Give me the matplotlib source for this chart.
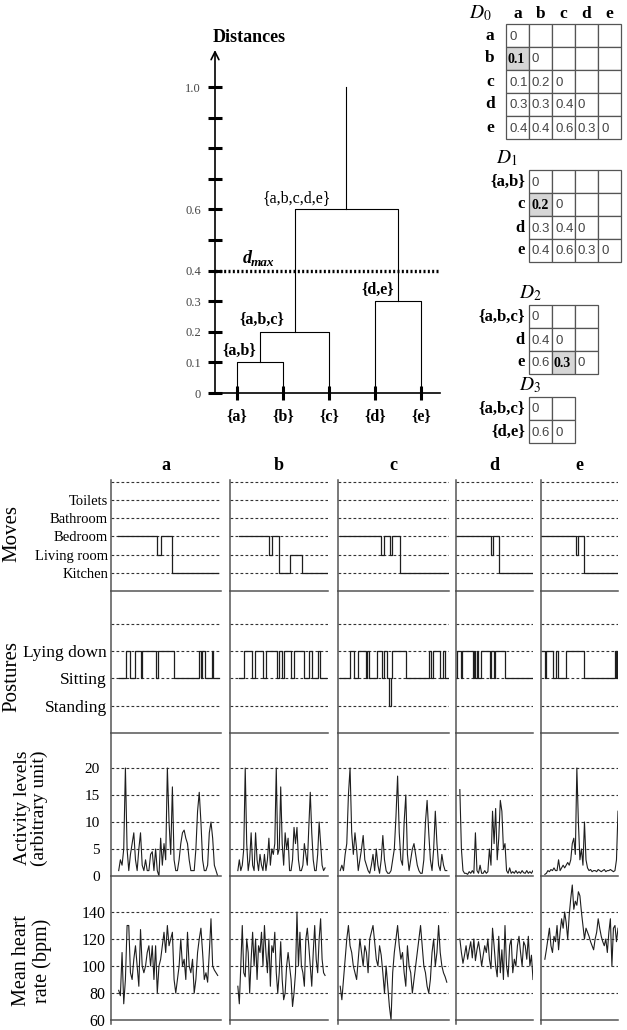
import matplotlib
matplotlib.use('Agg')
import matplotlib.pyplot as plt
from matplotlib.patches import Rectangle
import numpy as np

plt.rcParams['font.family'] = ['Liberation Serif', 'DejaVu Serif']
plt.rcParams['mathtext.fontset'] = 'stix'

# ---------------- data ----------------
leaves = ['a', 'b', 'c', 'd', 'e']
merge_left = ['a', '{a,b}', 'd', '{a,b,c}']
merge_right = ['b', 'c', 'e', '{d,e}']
merge_height = [0.1, 0.2, 0.3, 0.6]
merge_name = ['{a,b}', '{a,b,c}', '{d,e}', '{a,b,c,d,e}']
root_top = 1.0
d_max = 0.4
dist_ticks = [0, 0.1, 0.2, 0.3, 0.4, 0.5, 0.6, 0.7, 0.8, 0.9, 1.0]
dist_labels = ['0', '0.1', '0.2', '0.3', '0.4', '', '0.6', '', '', '', '1.0']

# distance matrices (lower triangle)
D0_rows = ['a', 'b', 'c', 'd', 'e']
D0_vals = [[0], [0.1, 0], [0.1, 0.2, 0], [0.3, 0.3, 0.4, 0], [0.4, 0.4, 0.6, 0.3, 0]]
D1_rows = ['{a,b}', 'c', 'd', 'e']
D1_vals = [[0], [0.2, 0], [0.3, 0.4, 0], [0.4, 0.6, 0.3, 0]]
D2_rows = ['{a,b,c}', 'd', 'e']
D2_vals = [[0], [0.4, 0], [0.6, 0.3, 0]]
D3_rows = ['{a,b,c}', '{d,e}']
D3_vals = [[0], [0.6, 0]]
D_min = [(1, 0), (1, 0), (2, 1), None]

# moves (time in % of the day window, level)
move_names = ['Kitchen', 'Living room', 'Bedroom', 'Bathroom', 'Toilets']
moves_t = [[6, 42, 45, 55, 97],
           [9, 40, 43, 50, 61, 73, 99],
           [2, 39, 41, 47, 49, 56, 99],
           [0, 45, 48, 56, 100],
           [0, 45, 48, 56, 99]]
moves_lv = [[3, 2, 3, 1, 1],
            [3, 2, 3, 1, 2, 1, 1],
            [3, 2, 3, 2, 3, 1, 1],
            [3, 2, 3, 1, 1],
            [3, 2, 3, 1, 1]]

posture_names = ['Standing', 'Sitting', 'Lying down']
post_t = [[7, 14, 17, 22, 27, 28, 41, 42.5, 57, 80, 82, 83, 85, 92, 93, 98],
          [9, 14, 22, 26, 34, 37, 48, 50, 53, 55, 62, 65, 75, 81, 84, 90, 92, 98],
          [2, 11, 14, 18, 25, 26, 28, 35, 40, 41, 44, 46, 47.5, 49, 61, 82, 84, 86, 92, 95, 96, 100],
          [0, 1, 6, 8, 22, 24, 25, 27, 29, 33, 44, 46, 49, 51, 63, 100],
          [1, 5, 7, 16, 20, 22, 33, 56, 96, 97, 98, 99, 99.5]]
post_lv = [[2, 3, 2, 3, 2, 3, 2, 3, 2, 3, 2, 3, 2, 3, 2, 2],
           [2, 3, 2, 3, 2, 3, 2, 3, 2, 3, 2, 3, 2, 3, 2, 3, 2, 2],
           [2, 3, 2, 3, 2, 3, 2, 3, 2, 3, 2, 1, 2, 3, 2, 3, 2, 3, 2, 3, 2, 2],
           [2, 3, 2, 3, 2, 3, 2, 3, 2, 3, 2, 3, 2, 3, 2, 2],
           [3, 2, 3, 2, 3, 2, 3, 2, 3, 2, 3, 2, 2]]

act_span = [(7, 97), (8, 97), (2, 98), (5, 100), (5, 100)]
act_a = [1, 3, 2, 5, 20, 5, 1, 4, 6, 8, 3, 1, 5, 8, 2, 1, 3, 1, 1, 4, 4.5, 1, 5, 1, 0, 7, 2, 6, 3, 20,
         10, 4, 16.5, 3, 1, 1, 3, 6, 8, 8.5, 7, 6, 3, 1, 1, 1, 5, 12, 15.5, 10, 3, 1, 1, 2, 8, 10, 7, 2, 1, 0]
act_b = [1, 3, 1, 2, 5, 20, 6, 1, 3, 8, 2, 1, 8, 3, 1, 4, 2, 1, 4, 1, 3, 7, 2, 5, 4, 6, 20, 4, 5, 16.5,
         6, 2, 8, 5, 7, 1, 1, 3, 9, 6, 9, 3, 1, 1, 2, 6, 4, 2, 9, 15.5, 8, 3, 1, 1, 4, 10, 6, 2, 1, 1.5]
act_c = [1, 2, 1, 4, 6, 15, 20, 8, 4, 8, 5, 1, 3, 5, 7.5, 3, 2, 1, 0.5, 2, 4, 1, 5, 2, 0.5, 3, 7.5, 3, 1,
         0.5, 0.5, 1, 3, 5, 11, 18.5, 8, 3, 2, 10, 15, 4, 1, 3, 5, 6, 4, 2, 1, 0.5, 0.5, 3, 10, 14, 8, 3,
         1, 5, 12, 6, 2, 1, 4, 2, 1, 1]
act_d = [16, 5, 1, 0.5, 0.5, 0.3, 0.8, 0.5, 1, 0.5, 8, 1, 0.5, 2, 0.5, 0.5, 1, 0.5, 0.8, 5, 2, 12, 6,
         12.5, 3, 7, 14, 12, 5, 6, 1, 0.5, 1.5, 0.5, 0.8, 0.5, 1, 0.5, 0.8, 0.5, 1, 0.6, 0.5, 1, 0.5, 0.8, 0.5, 1]
act_e = [0.3, 0.5, 1, 0.8, 1.2, 1, 1.5, 1, 1, 3, 1, 1.5, 2, 1.5, 2, 2.5, 2, 3, 6, 7, 4, 20, 10, 3, 5, 2,
         10, 3, 1.5, 1, 1.2, 0.8, 1, 1, 0.8, 1.2, 1, 0.8, 1, 1.2, 0.8, 1, 1, 1.2, 1, 0.8, 1, 3, 12]

hr_span = [(7, 97), (8, 97), (2, 98), (5, 100), (5, 100)]
hr_a = [82, 78, 110, 72, 90, 130, 130, 95, 90, 105, 115, 100, 85, 127, 100, 95, 100, 110, 115, 100, 115,
        90, 115, 80, 100, 105, 115, 125, 110, 130, 115, 120, 125, 90, 80, 90, 100, 120, 100, 105, 90, 125,
        100, 95, 105, 80, 90, 110, 120, 128, 110, 90, 95, 88, 110, 135, 100, 97, 95, 93]
hr_b = [85, 72, 100, 130, 95, 92, 120, 110, 80, 105, 125, 100, 120, 90, 115, 110, 125, 100, 130, 110, 95,
        120, 85, 115, 110, 125, 95, 80, 95, 118, 90, 75, 80, 100, 110, 100, 90, 70, 80, 95, 140, 100, 125,
        100, 95, 85, 120, 128, 115, 100, 85, 110, 130, 105, 95, 120, 135, 105, 95, 93]
hr_c = [85, 75, 90, 105, 120, 130, 115, 110, 100, 95, 90, 105, 120, 110, 100, 115, 110, 95, 120, 125, 130,
        118, 105, 100, 115, 108, 95, 80, 100, 85, 70, 60, 95, 110, 120, 130, 115, 105, 110, 95, 85, 115,
        100, 95, 80, 90, 100, 110, 120, 130, 115, 100, 95, 85, 80, 90, 110, 120, 100, 110, 130, 110, 100,
        95, 92, 88]
hr_d = [120, 110, 102, 108, 115, 105, 112, 118, 106, 120, 104, 112, 118, 110, 100, 108, 115, 110, 120, 105,
        98, 128, 115, 100, 92, 122, 95, 112, 90, 130, 100, 92, 115, 120, 95, 105, 100, 115, 122, 110, 100,
        118, 115, 105, 122, 100, 108, 90]
hr_e = [105, 112, 120, 128, 115, 110, 122, 118, 130, 112, 125, 135, 128, 140, 132, 120, 138, 150, 160, 142,
        148, 145, 155, 152, 140, 130, 120, 128, 125, 122, 118, 115, 112, 120, 125, 135, 128, 122, 118, 115,
        120, 110, 125, 135, 100, 128, 130, 118, 128]
activity = [act_a, act_b, act_c, act_d, act_e]
heart = [hr_a, hr_b, hr_c, hr_d, hr_e]

# ---------------- figure ----------------
W, H = 627, 1030
fig = plt.figure(figsize=(W / 100, H / 100), dpi=100)


def px_ax(x0, y0, x1, y1):
    a = fig.add_axes([x0 / W, 1 - y1 / H, (x1 - x0) / W, (y1 - y0) / H])
    a.patch.set_alpha(0)
    return a


ov = px_ax(0, 0, W, H)
ov.set_xlim(0, W)
ov.set_ylim(H, 0)
ov.axis('off')

# ---------------- dendrogram ----------------
ax = px_ax(215, 50, 440, 393)
xl, xr = 1 - 22 / 46, 5 + 19 / 46
ax.set_xlim(xl, xr)
ax.set_ylim(0, 343 / 306)
for s in ['top', 'right', 'left']:
    ax.spines[s].set_visible(False)
ax.spines['bottom'].set_linewidth(1.2)
ax.annotate('', xy=(xl, 343 / 306), xytext=(xl, 0), annotation_clip=False,
            arrowprops=dict(arrowstyle='->', lw=1.2, color='k', mutation_scale=14, shrinkA=0, shrinkB=0))
ax.set_yticks(dist_ticks, dist_labels)
ax.tick_params(axis='y', direction='inout', length=10.5, width=2.2, pad=5, labelsize=9, labelcolor='#444')
ax.set_xticks(range(1, 6), ['{' + l + '}' for l in leaves])
ax.tick_params(axis='x', direction='inout', length=10, width=2.2, pad=6, labelsize=11.5)
for t in ax.get_xticklabels():
    t.set_fontweight('bold')

pos = {l: (i + 1, 0.0) for i, l in enumerate(leaves)}
for L, R, h, name in zip(merge_left, merge_right, merge_height, merge_name):
    (x1, h1), (x2, h2) = pos[L], pos[R]
    ax.plot([x1, x1, x2, x2], [h1, h, h, h2], color='k', lw=0.8)
    pos[name] = ((x1 + x2) / 2, h)
    ax.text(x1 + 0.05, h + 0.012, name, ha='center', va='bottom', fontsize=11.5,
            fontweight='normal' if name == merge_name[-1] else 'bold')
xr_root, hr_root = pos[merge_name[-1]]
ax.plot([xr_root, xr_root], [hr_root, root_top], color='k', lw=0.8)
ax.plot([xl, xr], [d_max, d_max], color='k', lw=2.4, ls=(0, (0.6, 0.7)), clip_on=False)
ov.text(213, 38, 'Distances', fontsize=13, fontweight='bold', ha='left', va='center')
ov.text(243, 263, 'd', fontsize=13, fontweight='bold', style='italic', ha='left', va='baseline')
ov.text(251, 266, 'max', fontsize=9.5, fontweight='bold', style='italic', ha='left', va='baseline')

# ---------------- distance matrices ----------------
cell = 23
mats = [(D0_rows, D0_vals, 506, 24), (D1_rows, D1_vals, 529, 170),
        (D2_rows, D2_vals, 529, 305), (D3_rows, D3_vals, 529, 397)]
for k, (rows, vals, x0, y0) in enumerate(mats):
    n = len(rows)
    for i in range(n):
        for j in range(n):
            hl = D_min[k] == (i, j)
            ov.add_patch(Rectangle((x0 + j * cell, y0 + i * cell), cell, cell,
                                   facecolor='#d6d6d6' if hl else 'white', edgecolor='#555', lw=0.9))
            if j < len(vals[i]):
                v = f'{vals[i][j]:g}'
                if hl:
                    ov.text(x0 + j * cell + 2, y0 + i * cell + cell / 2 + 1, v, fontsize=10,
                            fontweight='bold', ha='left', va='center')
                else:
                    ov.text(x0 + j * cell + 3, y0 + i * cell + cell / 2 + 1, v, fontsize=9.5,
                            family='Liberation Sans', color='#444', ha='left', va='center')
        if k == 0:
            ov.text(x0 - 16, y0 + i * cell + cell / 2, rows[i], fontsize=12.5, fontweight='bold',
                    ha='center', va='center')
        else:
            ov.text(x0 - 4, y0 + i * cell + cell / 2, rows[i], fontsize=12, fontweight='bold',
                    ha='right', va='center')
    if k == 0:
        for j in range(n):
            ov.text(x0 + j * cell + cell / 2, y0 - 10, rows[j], fontsize=12.5, fontweight='bold',
                    ha='center', va='center')
        ov.text(x0 - 26, y0 - 11, f'$D_{k}$', fontsize=14, ha='center', va='center')
    elif k == 1:
        ov.text(x0 - 22, y0 - 12, f'$D_{k}$', fontsize=14, ha='center', va='center')
    else:
        ov.text(x0 + 1, y0 - 12, f'$D_{k}$', fontsize=14, ha='center', va='center')

# ---------------- bottom panels ----------------
col_left = [111, 230, 338, 456, 541]
col_right = [221, 328, 449, 533, 618]
rows_px = [(480, 591), (591, 733), (733, 876), (876, 1020)]
dash = (0, (2.5, 2))
lc = '#1e1e1e'

for c in range(5):
    axes = [px_ax(col_left[c], y0, col_right[c], y1) for (y0, y1) in rows_px]
    for a in axes:
        a.set_xlim(0, 100)
        a.spines['top'].set_visible(False)
        a.spines['right'].set_visible(False)
        a.spines['left'].set_color('#555')
        a.spines['bottom'].set_color('#555')
        a.spines['left'].set_linewidth(1.1)
        a.spines['bottom'].set_linewidth(1.1)
        a.set_xticks([])
        a.tick_params(axis='y', length=0)

    am, ap, aa, ah = axes
    am.set_ylim(0, 111 / 18.2)
    for lvl in range(1, 7):
        am.axhline(lvl, color='#333', lw=0.8, ls=dash)
    am.step(moves_t[c], moves_lv[c], where='post', color=lc, lw=0.9)

    ap.set_ylim(0, 142 / 27.3)
    for lvl in range(1, 5):
        ap.axhline(lvl, color='#333', lw=0.8, ls=dash)
    ap.step(post_t[c], post_lv[c], where='post', color=lc, lw=0.9)

    aa.set_ylim(0, 143 / 5.4)
    for lvl in [5, 10, 15, 20]:
        aa.axhline(lvl, color='#333', lw=0.8, ls=dash)
    s, e = act_span[c]
    aa.plot(np.linspace(s, e, len(activity[c])), activity[c], color=lc, lw=0.8)

    ah.set_ylim(60, 60 + 144 / 1.35)
    for lvl in [80, 100, 120, 140]:
        ah.axhline(lvl, color='#333', lw=0.8, ls=dash)
    s, e = hr_span[c]
    ah.plot(np.linspace(s, e, len(heart[c])), heart[c], color=lc, lw=0.8)
    ah.plot([0, 0], [60, 57], color='#555', lw=1.1, clip_on=False)

    if c == 0:
        am.set_yticks(range(1, 6), move_names)
        am.tick_params(axis='y', pad=2, labelsize=10.5)
        ap.set_yticks(range(1, 4), posture_names)
        ap.tick_params(axis='y', pad=3, labelsize=12.5)
        aa.set_yticks([0, 5, 10, 15, 20])
        aa.tick_params(axis='y', pad=8, labelsize=11)
        ah.set_yticks([60, 80, 100, 120, 140])
        ah.tick_params(axis='y', pad=4, labelsize=11.5)
    else:
        for a in axes:
            a.set_yticks([])

    ov.text((col_left[c] + col_right[c]) / 2, 465, leaves[c], fontsize=13, fontweight='bold',
            ha='center', va='center')

ov.text(12, 533, 'Moves', rotation=90, fontsize=15, ha='center', va='center')
ov.text(12, 677, 'Postures', rotation=90, fontsize=15, ha='center', va='center')
ov.text(31, 808, 'Activity levels\n(arbitrary unit)', rotation=90, fontsize=14, ha='center',
        va='center', linespacing=1.05)
ov.text(32, 961, 'Mean heart\nrate (bpm)', rotation=90, fontsize=14.5, ha='center', va='center',
        linespacing=1.05)

fig.savefig('out.png', dpi=100)
